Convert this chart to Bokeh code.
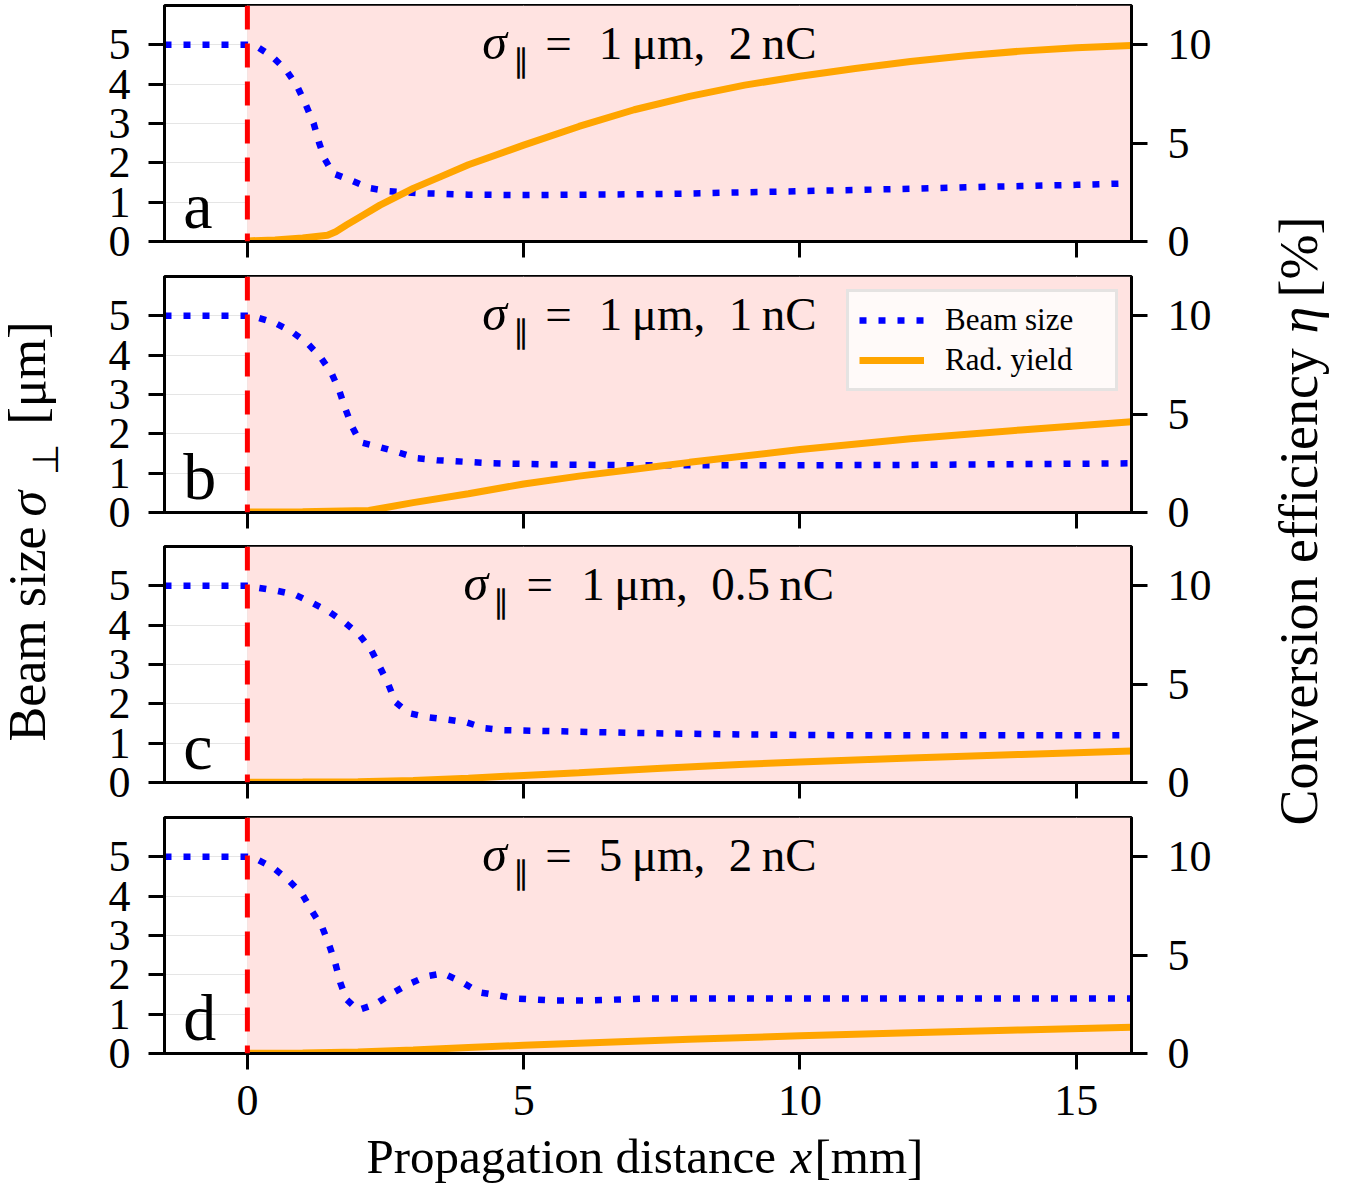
import math
from bokeh.plotting import figure
from bokeh.models import (Range1d, LinearAxis, FixedTicker, Span, BoxAnnotation,
                          Label, Legend, LegendItem)
from bokeh.layouts import row, column
from bokeh.embed import file_html
from bokeh.resources import INLINE

# ---------------- data ----------------
x_start, x_end = -1.5, 16.0
laser_start = 0.0
beam_ticks = [0, 1, 2, 3, 4, 5]
eta_ticks = [0, 5, 10]
x_ticks = [0, 5, 10, 15]

panel_letters = ["a", "b", "c", "d"]
sigma_par = ["1", "1", "1", "5"]
charges = ["2", "1", "0.5", "2"]

# panel a
a_beam_x = [-1.5, 0, 0.2, 0.45, 0.7, 0.9, 1.05, 1.2, 1.3, 1.4, 1.55, 1.85, 2.2, 2.55, 3.1, 4, 5, 6, 7, 8, 9, 10, 11, 12, 13, 14, 15, 16]
a_beam_y = [5, 5, 4.93, 4.7, 4.36, 3.95, 3.5, 3.0, 2.5, 2.1, 1.73, 1.57, 1.36, 1.28, 1.23, 1.19, 1.18, 1.19, 1.2, 1.22, 1.25, 1.28, 1.31, 1.34, 1.38, 1.41, 1.44, 1.48]
a_rad_x = [0, 0.5, 1.0, 1.45, 1.6, 1.8, 2.1, 2.4, 3.0, 3.5, 4.0, 4.5, 5, 6, 7, 8, 9, 10, 11, 12, 13, 14, 15, 16]
a_rad_y = [0.03, 0.08, 0.18, 0.32, 0.5, 0.85, 1.35, 1.85, 2.7, 3.3, 3.9, 4.4, 4.9, 5.85, 6.7, 7.38, 7.95, 8.4, 8.8, 9.15, 9.45, 9.68, 9.85, 9.97]

# panel b
b_beam_x = [-1.5, 0, 0.2, 0.5, 0.8, 1.08, 1.32, 1.52, 1.66, 1.77, 1.9, 2.04, 2.4, 2.73, 3.07, 3.43, 4.45, 5.5, 7, 8.5, 10, 12, 14, 16]
b_beam_y = [5, 5, 4.95, 4.82, 4.6, 4.31, 3.96, 3.55, 3.11, 2.65, 2.17, 1.79, 1.66, 1.53, 1.38, 1.33, 1.25, 1.22, 1.2, 1.2, 1.2, 1.21, 1.23, 1.25]
b_rad_x = [0, 1, 2.2, 3, 4, 5, 6, 7, 8, 10, 12, 14, 16]
b_rad_y = [0.02, 0.04, 0.1, 0.5, 0.95, 1.45, 1.85, 2.2, 2.55, 3.2, 3.75, 4.2, 4.62]

# panel c
c_beam_x = [-1.5, 0, 0.2, 0.55, 0.87, 1.17, 1.48, 1.77, 2.03, 2.24, 2.4, 2.55, 2.68, 2.93, 3.27, 3.62, 3.96, 4.3, 4.63, 5.7, 7.4, 9, 11, 13, 16]
c_beam_y = [5, 5, 4.95, 4.87, 4.77, 4.57, 4.34, 4.06, 3.75, 3.37, 2.93, 2.5, 2.04, 1.76, 1.66, 1.6, 1.53, 1.38, 1.33, 1.3, 1.25, 1.22, 1.2, 1.2, 1.2]
c_rad_x = [0, 1, 2, 3, 4, 5, 6, 7.5, 9, 10, 12, 14, 16]
c_rad_y = [0.01, 0.02, 0.04, 0.1, 0.22, 0.36, 0.5, 0.73, 0.93, 1.04, 1.25, 1.43, 1.6]

# panel d
d_beam_x = [-1.5, 0, 0.2, 0.47, 0.74, 0.99, 1.17, 1.36, 1.48, 1.59, 1.68, 1.79, 2.0, 2.31, 2.62, 2.91, 3.24, 3.54, 3.89, 4.18, 4.52, 4.85, 5.5, 6.2, 7.3, 8.5, 10, 12, 14, 16]
d_beam_y = [5, 5, 4.92, 4.72, 4.41, 4.06, 3.62, 3.19, 2.76, 2.3, 1.81, 1.38, 1.1, 1.25, 1.53, 1.76, 1.96, 2.04, 1.81, 1.56, 1.48, 1.4, 1.35, 1.35, 1.4, 1.4, 1.4, 1.4, 1.4, 1.4]
d_rad_x = [0, 1, 2, 3, 4, 5, 6, 8, 10, 12, 14, 16]
d_rad_y = [0.01, 0.03, 0.08, 0.18, 0.3, 0.42, 0.52, 0.72, 0.9, 1.05, 1.2, 1.33]

beam_x = [a_beam_x, b_beam_x, c_beam_x, d_beam_x]
beam_y = [a_beam_y, b_beam_y, c_beam_y, d_beam_y]
rad_x = [a_rad_x, b_rad_x, c_rad_x, d_rad_x]
rad_y = [a_rad_y, b_rad_y, c_rad_y, d_rad_y]

# ---------------- style ----------------
FONT = "Liberation Serif"
PINK = "#ffe3e1"
TOTAL_H = 1185
LEFT_W, PANEL_W, RIGHT_W = 92, 1166, 81
FRAME_L, FRAME_R = 164, 1131   # page x of the panel frames (x-label figure aligns to them)

# per panel: (figure height, min_border_top, min_border_bottom)
panel_sizes = [(275, 5, 34), (270, 1, 33), (271, 1, 34), (313, 1, 76)]
XLAB_H = TOTAL_H - sum(s[0] for s in panel_sizes)
# title piece positions (data x): sigma, parallel, equals, value right edge
title_pos = [(4.25, 4.80, 5.39, 10.30), (4.25, 4.80, 5.39, 10.30),
             (3.91, 4.45, 5.05, 10.62), (4.25, 4.80, 5.39, 10.30)]


def style_axis(ax, ticks, show_labels=True, standoff=20):
    ax.ticker = FixedTicker(ticks=ticks)
    ax.axis_line_width = 3
    ax.axis_line_color = "black"
    ax.major_tick_line_width = 3
    ax.major_tick_line_color = "black"
    ax.major_tick_out = 16
    ax.major_tick_in = 0
    ax.minor_tick_line_color = None
    ax.major_label_text_font = FONT
    ax.major_label_text_color = "black"
    if show_labels:
        ax.major_label_text_font_size = "44px"
        ax.major_label_standoff = standoff
    else:
        ax.major_label_text_font_size = "0px"
        ax.major_label_overrides = {t: "" for t in ticks}
        ax.major_label_standoff = 0


def lab(x, y, text, size, style="normal", align="left", angle=0.0):
    return Label(x=x, y=y, text=text, angle=angle, text_font=FONT, text_font_size=f"{size}px",
                 text_font_style=style, text_color="black", text_align=align,
                 text_baseline="alphabetic")


panels = []
for i in range(4):
    h, top, bottom = panel_sizes[i]
    last = (i == 3)
    p = figure(width=PANEL_W, height=h, x_range=Range1d(x_start, x_end), y_range=Range1d(0, 6),
               output_backend="svg", toolbar_location=None,
               min_border_left=72, min_border_right=127, min_border_top=top, min_border_bottom=bottom,
               x_axis_location=None, y_axis_location=None)
    p.extra_y_ranges = {"eta": Range1d(0, 12)}
    p.outline_line_color = "black"
    p.outline_line_width = 3
    p.background_fill_color = "white"
    p.border_fill_color = "white"

    xb = LinearAxis()
    style_axis(xb, x_ticks, show_labels=last, standoff=16)
    p.add_layout(xb, "below")
    yl = LinearAxis()
    style_axis(yl, beam_ticks, standoff=18)
    p.add_layout(yl, "left")
    yr = LinearAxis(y_range_name="eta")
    style_axis(yr, eta_ticks, standoff=20)
    p.add_layout(yr, "right")

    p.add_layout(BoxAnnotation(left=laser_start, fill_color=PINK, fill_alpha=1.0,
                               line_color=None, level="underlay"))

    r_beam = p.line(beam_x[i], beam_y[i], line_color="blue", line_width=6.5,
                    line_dash="7 12", line_cap="butt")
    r_rad = p.line(rad_x[i], rad_y[i], y_range_name="eta", line_color="orange", line_width=7)

    p.add_layout(Span(location=laser_start, dimension="height", line_color="red",
                      line_width=5, line_dash="24 14"))

    # panel letter (anchor raised to compensate the renderer's baseline offset)
    p.add_layout(lab(-1.16, 0.91, panel_letters[i], 66))

    # title  sigma_par = .. um, .. nC
    sx, px_, ex, vx = title_pos[i]
    p.add_layout(lab(sx, 5.06, "σ", 50, style="italic"))
    p.add_layout(lab(px_, 4.60, "∥", 32))
    p.add_layout(lab(ex, 5.04, "=", 47))
    p.add_layout(lab(vx, 5.04, f"{sigma_par[i]}\u2009μm,\u2002{charges[i]}\u2009nC", 47, align="right"))

    if i == 1:
        legend = Legend(items=[LegendItem(label="Beam size", renderers=[r_beam]),
                               LegendItem(label="Rad. yield", renderers=[r_rad])],
                        location="top_right")
        legend.label_text_font = FONT
        legend.label_text_font_size = "31px"
        legend.label_text_color = "black"
        legend.glyph_width = 65
        legend.glyph_height = 34
        legend.label_height = 34
        legend.label_width = 160
        legend.label_standoff = 21
        legend.padding = 10
        legend.spacing = 4
        legend.margin = 13
        legend.border_line_color = "#cccccc"
        legend.border_line_width = 3
        legend.background_fill_color = "white"
        legend.background_fill_alpha = 0.8
        p.add_layout(legend)
    panels.append(p)


def label_fig(w, h, xr):
    f = figure(width=w, height=h, x_range=xr, y_range=Range1d(h, 0),
               output_backend="svg", toolbar_location=None, min_border=0,
               x_axis_location=None, y_axis_location=None)
    f.outline_line_color = None
    f.grid.visible = False
    return f


rot = math.pi / 2
lf = label_fig(LEFT_W, TOTAL_H, Range1d(0, LEFT_W))
lf.add_layout(lab(27, 741, "Beam size", 52, angle=rot))
lf.add_layout(lab(27, 516, "σ", 52, style="italic", angle=rot))
lf.add_layout(lab(45, 474, "⊥", 36, angle=rot))
lf.add_layout(lab(27, 424, "[μm]", 52, angle=rot))

rf = label_fig(RIGHT_W, TOTAL_H, Range1d(0, RIGHT_W))
rf.add_layout(lab(40, 825, "Conversion efficiency", 54, angle=rot))
rf.add_layout(lab(40, 333, "η", 54, style="italic", angle=rot))
rf.add_layout(lab(40, 297, "[%]", 54, angle=rot))

# x-axis title strip; its frame is aligned with the panel frames, so use page x
xf = label_fig(PANEL_W, XLAB_H, Range1d(FRAME_L, FRAME_R))
xf.add_layout(lab(366, 26.5, "Propagation distance", 49))
xf.add_layout(lab(790, 26.5, "x", 49, style="italic"))
xf.add_layout(lab(814, 26.5, "[mm]", 49))

layout = row(lf, column(*panels, xf), rf)
open("out.html", "w").write(file_html(layout, INLINE))
